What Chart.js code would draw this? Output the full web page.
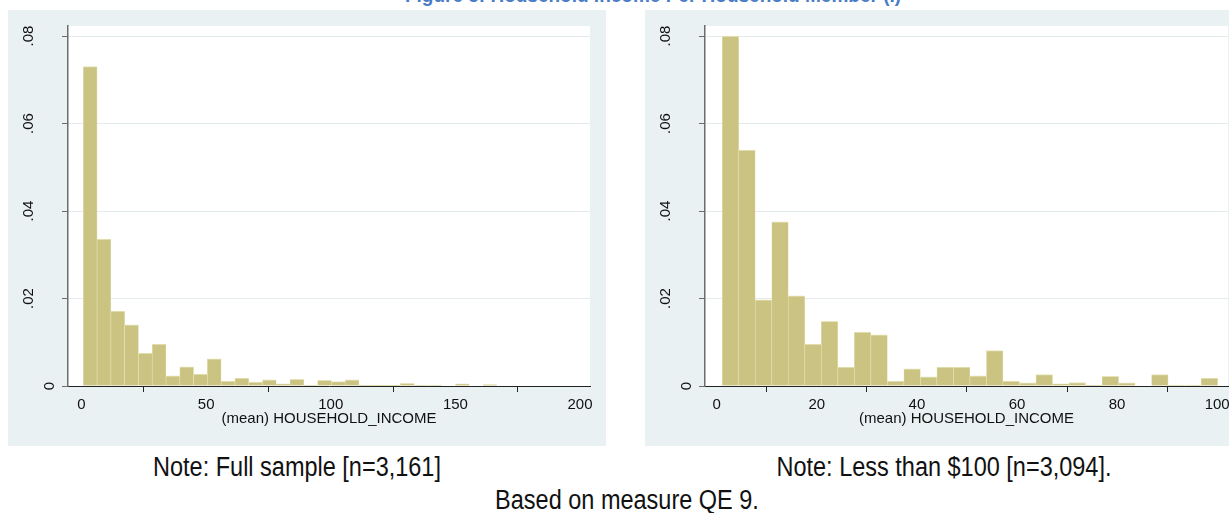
<!DOCTYPE html>
<html>
<head>
<meta charset="utf-8">
<script src="https://cdn.jsdelivr.net/npm/chart.js@4"></script>
<style>
  body { margin: 0; background: #fff; width: 1229px; height: 513px; overflow: hidden; position: relative; font-family: "Liberation Sans", Arial, sans-serif; }
  .panel { position: absolute; top: 10px; height: 436px; background: #eaf1f3; }
  .txt { position: absolute; width: 800px; white-space: nowrap; text-align: center; font: 27px "Liberation Sans", Arial, sans-serif; color: #111; transform: scaleX(0.87); transform-origin: 50% 50%; }
  #title { position: absolute; top: -16px; left: 253px; width: 800px; text-align: center; white-space: nowrap; font: bold 20px "Liberation Sans", Arial, sans-serif; color: #4a7cc7; transform: scaleX(0.95); }
</style>
</head>
<body>
<div id="title">Figure 5: Household Income Per Household Member (I)</div>
<div class="panel" style="left:8px;width:598px;"><canvas id="left" width="598" height="436"></canvas></div>
<div class="panel" style="left:645px;width:584px;"><canvas id="right" width="584" height="436"></canvas></div>
<div class="txt" style="left:-103px;top:452px;">Note: Full sample [n=3,161]</div>
<div class="txt" style="left:544px;top:452px;">Note: Less than $100 [n=3,094].</div>
<div class="txt" style="left:227px;top:485px;">Based on measure QE 9.</div>
<script>
"use strict";

// histogram bins: first bin start, bin width, density per bin
var fullStart = 0.72;
var fullWidth = 5.53;
var fullDensity = [0.0730, 0.0336, 0.0171, 0.0140, 0.0075, 0.0096, 0.0023, 0.0044, 0.0027, 0.0062,
                   0.0011, 0.0018, 0.0009, 0.0014, 0.0005, 0.0015, 0.0002, 0.0013, 0.0010, 0.0014,
                   0.0001, 0.0001, 0.0001, 0.0006, 0.0002, 0.0002, 0, 0.0005, 0, 0.0003];

var under100Start = 1.1;
var under100Width = 3.3;
var under100Density = [0.0800, 0.0539, 0.0197, 0.0375, 0.0206, 0.0096, 0.0148, 0.0043, 0.0123, 0.0117,
                       0.0011, 0.0039, 0.0021, 0.0043, 0.0043, 0.0023, 0.0081, 0.0011, 0.0007, 0.0026,
                       0.0005, 0.0008, 0.0001, 0.0022, 0.0007, 0, 0.0026, 0.0002, 0.0002, 0.0018];

var fullXTicks = [0, 50, 100, 150, 200];
var under100XTicks = [0, 20, 40, 60, 80, 100];
var yTicks = [0, 0.02, 0.04, 0.06, 0.08];
var yTickLabels = ["0", ".02", ".04", ".06", ".08"];
var xAxisTitle = "(mean) HOUSEHOLD_INCOME";

function toPoints(start, width, dens) {
    return dens.map(function (d, i) {
        return { x: start + width * (i + 0.5), y: d };
    });
}

// white plot region behind the bars
var plotBg = {
    id: "plotBg",
    beforeDraw: function (chart) {
        var a = chart.chartArea;
        chart.ctx.save();
        chart.ctx.fillStyle = "#ffffff";
        chart.ctx.fillRect(a.left, a.top, a.right - a.left, a.bottom - a.top);
        chart.ctx.restore();
    }
};

// stata-style vertical y labels (short labels sit closer to the axis)
var yLabels = {
    id: "yLabels",
    afterDraw: function (chart) {
        var s = chart.scales.y;
        var ctx = chart.ctx;
        ctx.save();
        ctx.font = "15px 'Liberation Sans', Arial, sans-serif";
        ctx.fillStyle = "#111";
        ctx.textAlign = "center";
        ctx.textBaseline = "middle";
        s.ticks.forEach(function (t) {
            var lab = yTickLabels[yTicks.indexOf(t.value)];
            var w = ctx.measureText(lab).width;
            var cx = chart.chartArea.left - 5 - 1.67 * w;
            ctx.save();
            ctx.translate(cx, s.getPixelForValue(t.value));
            ctx.rotate(-Math.PI / 2);
            ctx.fillText(lab, 0, 1);
            ctx.restore();
        });
        ctx.restore();
    }
};

function makeHist(id, start, width, dens, xTicks, xMin, xMax, padRight) {
    var ctx = document.getElementById(id).getContext("2d");
    return new Chart(ctx, {
        type: "bar",
        data: {
            datasets: [{
                data: toPoints(start, width, dens),
                backgroundColor: "rgb(203,195,130)",
                borderColor: "rgb(232,228,186)",
                borderWidth: { top: 1, left: 0.6, right: 0.6, bottom: 0 },
                borderSkipped: false,
                barPercentage: 1,
                categoryPercentage: 1
            }]
        },
        options: {
            responsive: false,
            animation: false,
            layout: { padding: { left: 0, top: 16, right: padRight, bottom: 0 } },
            plugins: { legend: { display: false }, tooltip: { enabled: false } },
            scales: {
                x: {
                    type: "linear",
                    offset: false,
                    min: xMin,
                    max: xMax,
                    afterBuildTicks: function (s) { s.ticks = xTicks.map(function (v) { return { value: v }; }); },
                    afterFit: function (s) { s.height = 60; s.paddingLeft = 0; s.paddingRight = 0; },
                    grid: { drawOnChartArea: false, tickLength: 6, tickColor: "#222", tickWidth: 1 },
                    border: { color: "#222", width: 1 },
                    ticks: { color: "#111", padding: 4, maxRotation: 0, font: { family: "Liberation Sans", size: 15 } },
                    title: { display: true, text: xAxisTitle, color: "#111", padding: { top: 0, bottom: 18 },
                             font: { family: "Liberation Sans", size: 15 } }
                },
                y: {
                    min: 0,
                    max: 0.08229,
                    afterBuildTicks: function (s) { s.ticks = yTicks.map(function (v) { return { value: v }; }); },
                    afterFit: function (s) { s.width = 60; s.paddingTop = 0; s.paddingBottom = 0; },
                    grid: { color: "#e3ebee", lineWidth: 1, tickLength: 6, tickColor: "#6d6d6d" },
                    border: { color: "#6d6d6d", width: 1.5 },
                    ticks: { display: false }
                }
            }
        },
        plugins: [plotBg, yLabels]
    });
}

makeHist("left", fullStart, fullWidth, fullDensity, fullXTicks, -5.42, 204.0, 16);
makeHist("right", under100Start, under100Width, under100Density, under100XTicks, -2.34, 102.17, 1);
</script>
</body>
</html>
